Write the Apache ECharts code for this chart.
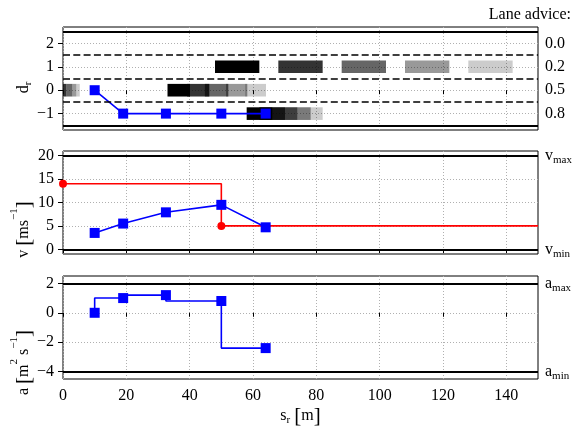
<!DOCTYPE html>
<html>
<head>
<meta charset="utf-8">
<script src="https://cdn.jsdelivr.net/npm/echarts@6/dist/echarts.min.js"></script>
<style>
  html, body { margin: 0; padding: 0; background: #fff; }
  #chart { width: 576px; height: 430px; }
</style>
</head>
<body>
<div id="chart"></div>
<script>
// planned points along the road [m]
const sPoints = [10, 19, 32.5, 50, 64];
const lanePoints = [0, -1, -1, -1, -1];
const speedPoints = [3.5, 5.5, 7.9, 9.5, 4.7];
const accelPoints = [0, 1.0, 1.2, 0.8, -2.4];

// speed limit profile
const limitS = [0, 50, 150];
const limitV = [14, 5, 5];

// lane advice blocks (lane, start, end, opacity)
const blockLane = [1, 1, 1, 1, 1, 0, 0, 0, 0, 0, 0, 0, 0, 0, -1, -1, -1, -1, -1];
const blockStart = [48, 68, 88, 108, 128, -2, 1.1, 2.95, 4.2, 33, 39.2, 44.8, 51.5, 57.5, 58, 62, 66.2, 70.1, 74];
const blockEnd = [62, 82, 102, 122, 142, 1.1, 2.95, 4.2, 5.3, 40.1, 46.2, 52.2, 58.2, 64.1, 66.2, 70.1, 74, 78.2, 82];
const blockAlpha = [1, 0.8, 0.6, 0.4, 0.2, 0.8, 0.6, 0.4, 0.2, 1, 0.8, 0.6, 0.4, 0.2, 1, 0.8, 0.6, 0.4, 0.2];

const sTicks = [0, 20, 40, 60, 80, 100, 120, 140];
const laneTicks = [-1, 0, 1, 2];
const laneAdvice = ['0.8', '0.5', '0.2', '0.0'];
const laneBounds = [2.5, -1.5];
const laneDividers = [1.5, 0.5, -0.5];
const speedTicks = [0, 5, 10, 15, 20];
const speedBounds = [20, 0];
const accelTicks = [-4, -2, 0, 2];
const accelBounds = [2, -4];

const serif = 'Liberation Serif';
const chart = echarts.init(document.getElementById('chart'));

const nameRich = {
  t: { fontFamily: serif, fontSize: 16, lineHeight: 30, color: '#000' },
  b: { fontFamily: serif, fontSize: 21, lineHeight: 30, color: '#000' },
  sub: { fontFamily: serif, fontSize: 11, verticalAlign: 'bottom', padding: [0, 0, 5, 0], color: '#000' },
  sup: { fontFamily: serif, fontSize: 11, verticalAlign: 'top', color: '#000' }
};
const sideRich = {
  m: { fontFamily: serif, fontSize: 16, lineHeight: 20, color: '#000' },
  s: { fontFamily: serif, fontSize: 11, lineHeight: 10, verticalAlign: 'bottom', color: '#000' }
};

const fmtNum = v => (v < 0 ? '\u2212' + Math.abs(v) : String(v));

const grids = [27, 151, 276].map(top => ({
  left: 63, right: 38, top, height: 103,
  show: true, borderColor: '#000', borderWidth: 1, backgroundColor: 'transparent',
  containLabel: false, outerBoundsMode: 'none'
}));

const xAxes = [0, 1, 2].map(i => ({
  type: 'value', gridIndex: i, min: 0, max: 150,
  axisLine: { show: false },
  axisTick: { show: true, inside: false, length: 4, customValues: sTicks, lineStyle: { color: '#000', width: 1 } },
  axisLabel: {
    show: i === 2, customValues: sTicks, margin: 9, fontFamily: serif, fontSize: 16, color: '#000'
  },
  splitLine: { show: true, lineStyle: { color: '#b0b0b0', width: 1, type: [1, 2] } },
  name: i === 2 ? '{t|s}{sub|r}{t| }{b|[}{t|m}{b|]}' : '',
  nameLocation: 'middle', nameGap: 22, nameMoveOverlap: false,
  nameTextStyle: { rich: nameRich }
}));

function leftAxis(i, min, max, ticks, name, pad) {
  return {
    type: 'value', gridIndex: i, min, max, position: 'left',
    axisLine: { show: false },
    axisTick: { show: true, length: 5, customValues: ticks, lineStyle: { color: '#000' } },
    axisLabel: { customValues: ticks, margin: 9, fontFamily: serif, fontSize: 16, color: '#000', formatter: fmtNum },
    splitLine: { show: true, lineStyle: { color: '#b0b0b0', width: 1, type: [1, 2] } },
    name, nameLocation: 'middle', nameGap: 24, nameRotate: 90, nameMoveOverlap: false,
    nameTextStyle: { rich: nameRich, padding: [0, pad, 0, 0] }
  };
}

function rightAxis(i, min, max, ticks, formatter) {
  return {
    type: 'value', gridIndex: i, min, max, position: 'right',
    axisLine: { show: false }, axisTick: { show: false }, splitLine: { show: false },
    axisLabel: { customValues: ticks, margin: 7, fontFamily: serif, fontSize: 16, color: '#000', formatter, rich: sideRich }
  };
}

const yAxes = [
  leftAxis(0, -1.7, 2.7, laneTicks, '{t|d}{sub|r}', 18),
  leftAxis(1, -1, 21, speedTicks, '{t|v }{b|[}{t|ms}{sup|\u22121}{b|]}', 54),
  leftAxis(2, -4.5, 2.5, accelTicks, '{t|a }{b|[}{t|m}{sup|2}{t| s}{sup|\u22121}{b|]}', 70),
  rightAxis(0, -1.7, 2.7, laneTicks, v => laneAdvice[laneTicks.indexOf(v)]),
  rightAxis(1, -1, 21, speedBounds, v => (v === speedBounds[0] ? '{m|v}{s|max}' : '{m|v}{s|min}')),
  rightAxis(2, -4.5, 2.5, accelBounds, v => (v === accelBounds[0] ? '{m|a}{s|max}' : '{m|a}{s|min}'))
];

const solid = y => ({ yAxis: y, lineStyle: { color: '#000', width: 2, type: 'solid' } });
const dashed = y => ({ yAxis: y, lineStyle: { color: '#000', width: 1.6, type: [7, 3.3] } });
const markLines = list => ({
  silent: true, symbol: ['none', 'none'], label: { show: false },
  emphasis: { disabled: true }, data: list
});

const blockData = blockStart.map((s, i) => [s, blockEnd[i], blockLane[i], blockAlpha[i]]);

function renderBlock(params, api) {
  const lane = api.value(2);
  const p0 = api.coord([api.value(0), lane + 0.27]);
  const p1 = api.coord([api.value(1), lane - 0.27]);
  const cs = params.coordSys;
  const shape = echarts.graphic.clipRectByRect(
    { x: p0[0], y: p0[1], width: p1[0] - p0[0], height: p1[1] - p0[1] },
    { x: cs.x, y: cs.y, width: cs.width, height: cs.height }
  );
  return shape && { type: 'rect', shape, style: { fill: 'rgba(0,0,0,' + api.value(3) + ')' } };
}

const blue = '#0000ff';
const blueLine = (i, values, extra) => Object.assign({
  type: 'line', xAxisIndex: i, yAxisIndex: i, z: 3,
  data: sPoints.map((s, k) => [s, values[k]]),
  symbol: 'rect', symbolSize: 10,
  itemStyle: { color: blue },
  lineStyle: { color: blue, width: 1.6 }
}, extra);

const option = {
  animation: false,
  backgroundColor: '#fff',
  title: {
    text: 'Lane advice:', right: 5, top: 7, padding: 0,
    textStyle: { fontFamily: serif, fontSize: 16, fontWeight: 'normal', color: '#000' }
  },
  grid: grids,
  xAxis: xAxes,
  yAxis: yAxes,
  series: [
    {
      type: 'custom', xAxisIndex: 0, yAxisIndex: 0, z: 1,
      renderItem: renderBlock, encode: { x: [0, 1], y: 2 }, data: blockData, silent: true
    },
    blueLine(0, lanePoints, {
      markLine: markLines(laneBounds.map(solid).concat(laneDividers.map(dashed)))
    }),
    {
      type: 'line', xAxisIndex: 1, yAxisIndex: 1, z: 2, step: 'end',
      data: limitS.map((s, k) => ({
        value: [s, limitV[k]],
        symbol: k < limitS.length - 1 ? 'circle' : 'none'
      })),
      symbolSize: 8,
      itemStyle: { color: '#ff0000' },
      lineStyle: { color: '#ff0000', width: 1.6 }
    },
    blueLine(1, speedPoints, { markLine: markLines(speedBounds.map(solid)) }),
    blueLine(2, accelPoints, { step: 'start', markLine: markLines(accelBounds.map(solid)) })
  ]
};

chart.setOption(option);
</script>
</body>
</html>
